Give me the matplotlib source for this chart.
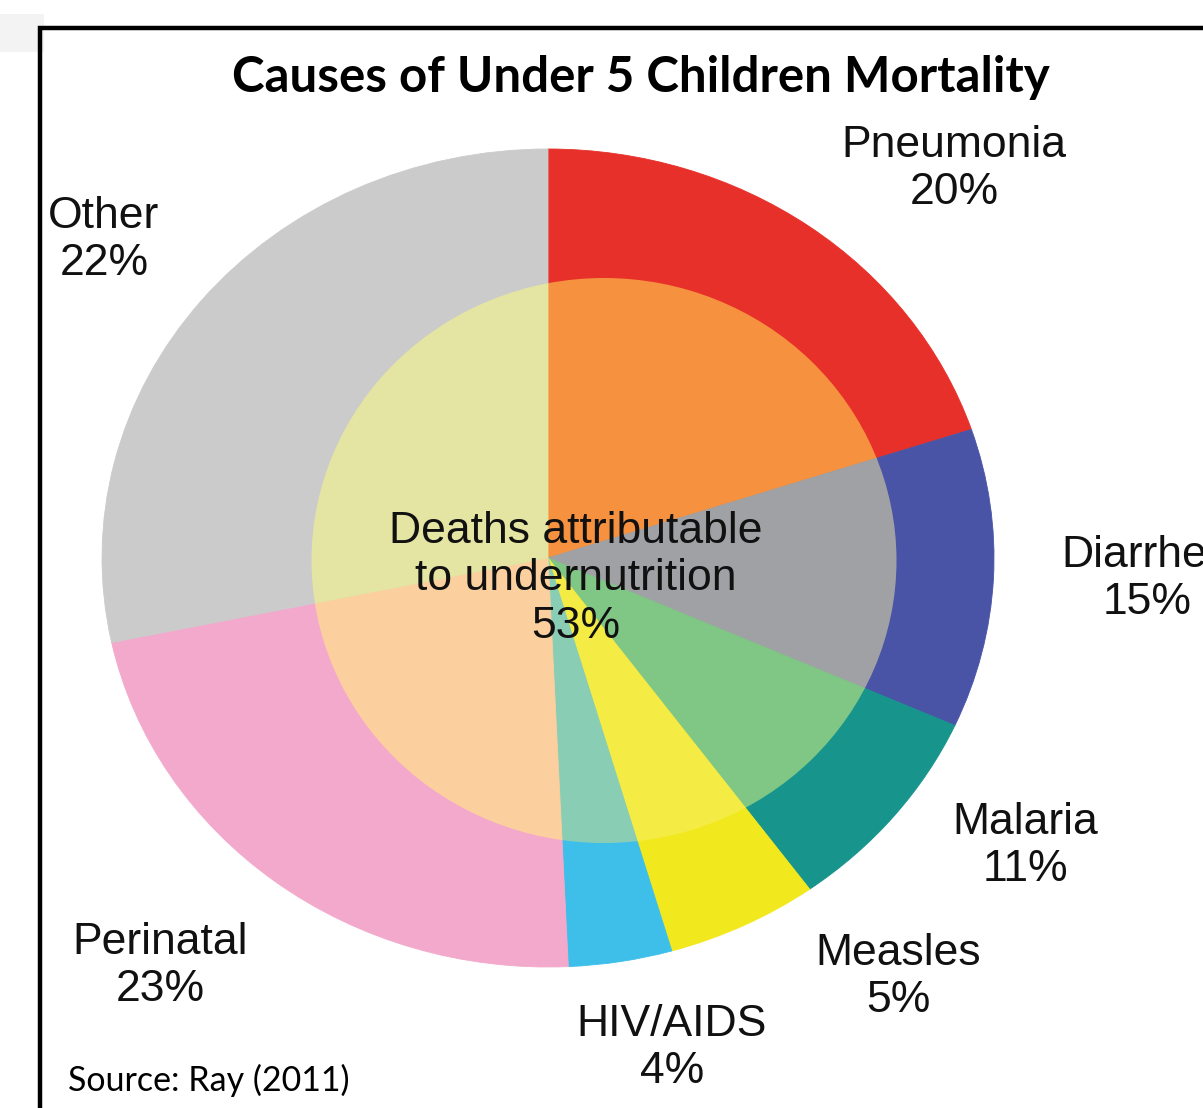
import matplotlib
matplotlib.use("Agg")
import matplotlib.pyplot as plt
from matplotlib.patches import Ellipse, Rectangle

# causes, clockwise from 12 o'clock
causes = ["Pneumonia", "Diarrhea", "Malaria", "Measles", "HIV/AIDS", "Perinatal", "Other"]
# percentages as printed on the chart
label_pct = [20, 15, 11, 5, 4, 23, 22]
# wedge sizes as actually drawn in the source picture (they don't match the printed labels)
drawn_share = [19.9, 11.8, 8.3, 5.5, 3.75, 22.4, 28.3]
center_text = "Deaths attributable\nto undernutrition\n53%"
source_text = "Source: Ray (2011)"
title_text = "Causes of Under 5 Children Mortality"

outer_colors = ["#E8302A", "#4A54A6", "#17948C", "#F2E81E", "#3DBFEA", "#F3A9CB", "#CBCBCB"]
inner_colors = ["#F5913F", "#A0A1A4", "#80C684", "#F4EC45", "#8ACDB5", "#FCCF9E", "#E4E5A2"]

W, H = 1203, 1108
# pie geometry in pixels of the reference
CX, CY, RX, RY = 548, 558, 446, 409

fig = plt.figure(figsize=(W / 100, H / 100), dpi=100)
ax = fig.add_axes([0, 0, 1, 1])

outer, _ = ax.pie(drawn_share, colors=outer_colors, startangle=90, counterclock=False,
                  radius=1.0, center=(0, 0))
inner, _ = ax.pie(drawn_share, colors=inner_colors, startangle=90, counterclock=False,
                  radius=0.99, center=(0, 0))

ax.set_aspect("auto")
ax.set_xlim((0 - CX) / RX, (W - CX) / RX)
ax.set_ylim((CY - H) / RY, CY / RY)
ax.axis("off")

# the "undernutrition" disc sits a little right of the pie centre
clip = Ellipse(((604 - CX) / RX, (CY - 560.5) / RY), 2 * 292.5 / RX, 2 * 282.5 / RY,
               facecolor="none", edgecolor="none", linewidth=0)
ax.add_patch(clip)
for w in outer + inner:
    w.set_edgecolor(w.get_facecolor())
    w.set_linewidth(0.6)
for w in inner:
    w.set_clip_on(True)  # pie turns clipping off for its wedges
    w.set_clip_path(clip)


def px(x, y):
    return x / W, 1 - y / H


lab_font = dict(family=["Liberation Sans", "DejaVu Sans"], fontsize=32, color="#111111",
                ha="center", va="center", linespacing=1.2)
label_xy = [(954, 169), (1147, 579), (1025, 846), (898, 977), (672, 1048), (160, 966), (104, 240)]
for name, pct, (x, y) in zip(causes, label_pct, label_xy):
    fig.text(*px(x, y), f"{name}\n{pct}%", **lab_font)

fig.text(*px(576, 579), center_text, **lab_font)

fig.text(*px(641, 78), title_text, family=["Lato", "DejaVu Sans"], fontweight="bold",
         fontsize=35.5, ha="center", va="center")
fig.text(*px(68, 1080), source_text, family=["Lato", "DejaVu Sans"], fontsize=24.5,
         ha="left", va="center")

# black frame and the faint grey patch in the top-left corner
fig.add_artist(Rectangle((0, 1 - 52 / H), 44 / W, 38 / H, transform=fig.transFigure,
                         facecolor="#F3F3F3", edgecolor="none", zorder=0))
fig.add_artist(Rectangle((40 / W, -0.1), 1.2, 1.1 - 28 / H, transform=fig.transFigure,
                         fill=False, edgecolor="black", linewidth=3.2))

fig.savefig("out.png", dpi=100)
